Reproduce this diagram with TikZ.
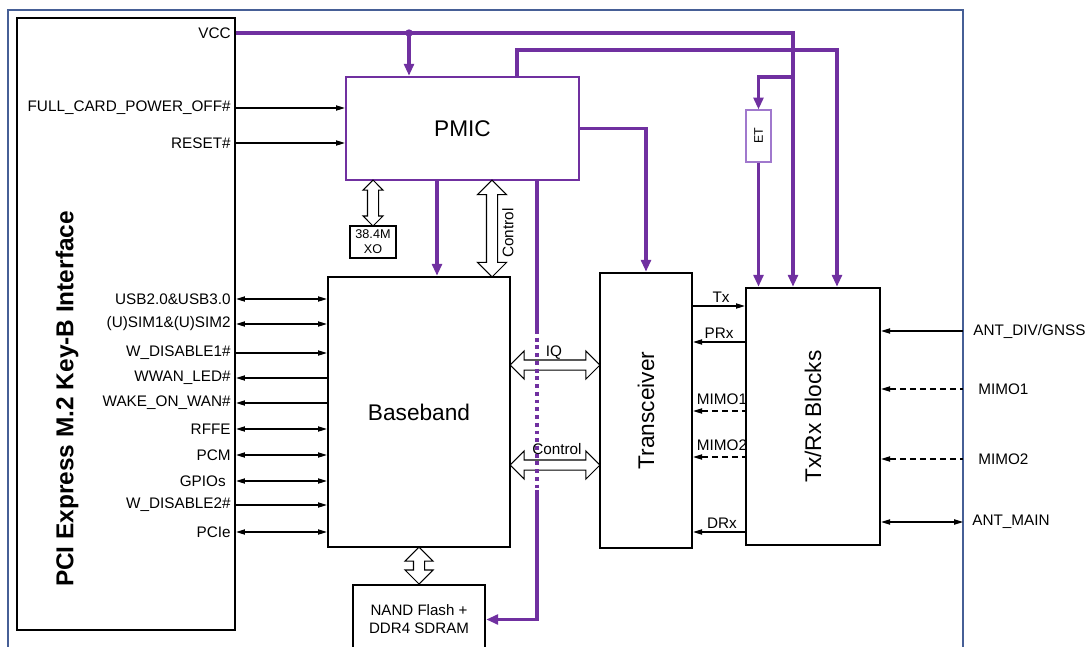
\documentclass[tikz,border=0pt]{standalone}
\usepackage{fontspec}
\setmainfont{Liberation Sans}
\usetikzlibrary{shapes,arrows.meta}

\definecolor{pmicviolet}{RGB}{112,48,160}
\definecolor{etviolet}{RGB}{160,120,205}
\definecolor{framecolor}{RGB}{70,95,150}

\begin{document}
\begin{tikzpicture}[x=0.02cm, y=-0.02cm]
	\tikzstyle{every node}=[inner sep=0pt, align=center, font=\fontsize{8.7}{10}\selectfont];
	\tikzstyle{block}=[draw, line width=1.4pt];
	\tikzstyle{bigtext}=[font=\fontsize{12.9}{15}\selectfont];
	\tikzstyle{sig}=[line width=0.6pt, >={Triangle[length=5pt,width=3pt]}];
	\tikzstyle{pwr}=[draw=pmicviolet, line width=1.8pt, >={Triangle[length=6.8pt,width=5.6pt]}];
	\tikzstyle{fat}=[draw, line width=0.6pt, fill=white, double arrow, double arrow tip angle=90, inner sep=0.1cm];
	\useasboundingbox (0,0) rectangle (1089,646);
	\draw[framecolor, line width=0.6pt] (8,10) rectangle (963,700);
	\coordinate (rim) at (963,0);

	% blocks
	\node[block, minimum width=4.36cm, minimum height=12.24cm] (pci) at (126,324) {};
	\node[rotate=90, font=\fontsize{13.9}{16}\selectfont\bfseries] (pcititle) at (67,399) {PCI Express M.2 Key-B Interface};
	\node[block, draw=pmicviolet, minimum width=4.66cm, minimum height=2.06cm, bigtext] (pmic) at (462.5,128.5) {PMIC};
	\node[block, minimum width=3.64cm, minimum height=5.4cm, bigtext] (bb) at (419,412) {Baseband};
	\node[block, minimum width=1.84cm, minimum height=5.5cm, bigtext] (trx) at (646,410.5) {\rotatebox{90}{Transceiver}};
	\node[block, minimum width=2.68cm, minimum height=5.14cm, bigtext] (txrx) at (813,416.5) {\rotatebox{90}{Tx/Rx Blocks}};
	\node[block, minimum width=2.64cm, minimum height=1.38cm, font=\fontsize{8.6}{10.2}\selectfont] (nand) at (419,619.5) {NAND Flash +\\DDR4 SDRAM};
	\node[draw, line width=0.6pt, minimum width=0.92cm, minimum height=0.64cm, font=\fontsize{7.2}{8.4}\selectfont] (xo) at (373,242) {38.4M\\XO};
	\node[draw=etviolet, line width=0.6pt, minimum width=0.5cm, minimum height=1.04cm, font=\fontsize{7.1}{8}\selectfont] (et) at (758.5,136) {\rotatebox{90}{ET}};

	% wide buses
	\node[fat, shape border rotate=90, minimum height=0.92cm, double arrow head extend=0.09cm] (xobus) at (373,203) {};
	\node[fat, shape border rotate=90, minimum height=1.94cm, double arrow head extend=0.18cm] (ctrlbus) at (492,228.5) {};
	\node (ctrlbuslbl) at (508,233) {\rotatebox{90}{Control}};
	\node[fat, inner sep=0.09cm, minimum height=1.8cm, double arrow head extend=0.18cm] (iqbus) at (555,365) {};
	\node (iqlbl) at (554,353) {IQ};
	\node[fat, inner sep=0.09cm, minimum height=1.8cm, double arrow head extend=0.18cm] (trxbus) at (555,465) {};
	\node (trxbuslbl) at (557,449) {Control};
	\node[fat, shape border rotate=90, minimum height=0.74cm, double arrow head extend=0.17cm] (membus) at (419,565.5) {};

	% power
	\node[anchor=east] (vcc) at (231,33) {VCC};
	\coordinate (vccjoin) at (409,33);
	\coordinate (vcccorner) at (793,33);
	\coordinate (etsplit) at (793,77);
	\coordinate (rfup) at (517,50);
	\coordinate (rfcorner) at (837,50);
	\coordinate (bbfeed) at (437,0);
	\coordinate (nandsolid) at (537,330);
	\coordinate (nanddot) at (537,490);
	\draw[pwr, ->] (pci.east |- vcc) -- (vcccorner) -- (vcccorner |- txrx.north);
	\fill[pmicviolet] (vccjoin) circle (2.1pt);
	\draw[pwr, ->] (vccjoin) -- (vccjoin |- pmic.north);
	\draw[pwr, ->] (etsplit) -| (et.north);
	\draw[pwr, ->] (et.south) -- (et.south |- txrx.north);
	\draw[pwr, ->] (rfup |- pmic.north) -- (rfup) -- (rfcorner) -- (rfcorner |- txrx.north);
	\draw[pwr, ->] (pmic.east) -| (trx.north);
	\draw[pwr, ->] (bbfeed |- pmic.south) -- (bbfeed |- bb.north);
	\draw[pwr] (nandsolid |- pmic.south) -- (nandsolid);
	\draw[pwr, dash pattern=on 2.2pt off 2.2pt] (nandsolid) -- (nanddot);
	\draw[pwr, ->] (nanddot) |- (nand.east);

	% M.2 pins
	\node[anchor=east] (fulloff) at (231,108) {FULL\_CARD\_POWER\_OFF\#};
	\node[anchor=east] (reset) at (231,143) {RESET\#};
	\draw[sig, ->] (pci.east |- fulloff) -- (pmic.west |- fulloff);
	\draw[sig, ->] (pci.east |- reset) -- (pmic.west |- reset);
	\node[anchor=east] (usb) at (231,299) {USB2.0\&USB3.0};
	\node[anchor=east] (sim) at (231,324) {(U)SIM1\&(U)SIM2};
	\node[anchor=east] (wdis1) at (231,353) {W\_DISABLE1\#};
	\node[anchor=east] (led) at (231,378) {WWAN\_LED\#};
	\node[anchor=east] (wake) at (231,403) {WAKE\_ON\_WAN\#};
	\node[anchor=east] (rffe) at (231,429) {RFFE};
	\node[anchor=east] (pcm) at (231,455) {PCM};
	\node[anchor=east] (gpio) at (226,481) {GPIOs};
	\node[anchor=east] (wdis2) at (231,505) {W\_DISABLE2\#};
	\node[anchor=east] (pcie) at (231,532) {PCIe};
	\draw[sig, <->] (pci.east |- usb) -- (bb.west |- usb);
	\draw[sig, <->] (pci.east |- sim) -- (bb.west |- sim);
	\draw[sig, ->] (pci.east |- wdis1) -- (bb.west |- wdis1);
	\draw[sig, <-] (pci.east |- led) -- (bb.west |- led);
	\draw[sig, <-] (pci.east |- wake) -- (bb.west |- wake);
	\draw[sig, <->] (pci.east |- rffe) -- (bb.west |- rffe);
	\draw[sig, <->] (pci.east |- pcm) -- (bb.west |- pcm);
	\draw[sig, <->] (pci.east |- gpio) -- (bb.west |- gpio);
	\draw[sig, ->] (pci.east |- wdis2) -- (bb.west |- wdis2);
	\draw[sig, <->] (pci.east |- pcie) -- (bb.west |- pcie);

	% RF paths
	\coordinate (txln) at (700,306);
	\coordinate (prxln) at (700,342);
	\coordinate (mimo1ln) at (700,411);
	\coordinate (mimo2ln) at (700,457);
	\coordinate (drxln) at (700,532);
	\node (txlbl) at (721,297) {Tx};
	\node (prxlbl) at (719,333) {PRx};
	\node (mimo1lbl) at (722,399) {MIMO1};
	\node (mimo2lbl) at (722,445) {MIMO2};
	\node (drxlbl) at (722,523) {DRx};
	\draw[sig, ->] (trx.east |- txln) -- (txrx.west |- txln);
	\draw[sig, <-] (trx.east |- prxln) -- (txrx.west |- prxln);
	\draw[sig, <-, dash pattern=on 3.4pt off 2.3pt] (trx.east |- mimo1ln) -- (txrx.west |- mimo1ln);
	\draw[sig, <-, dash pattern=on 3.4pt off 2.3pt] (trx.east |- mimo2ln) -- (txrx.west |- mimo2ln);
	\draw[sig, <-] (trx.east |- drxln) -- (txrx.west |- drxln);

	% antennas
	\node[anchor=west] (antdiv) at (973,331) {ANT\_DIV/GNSS};
	\node[anchor=west] (antmimo1) at (978,389) {MIMO1};
	\node[anchor=west] (antmimo2) at (978,459) {MIMO2};
	\node[anchor=west] (antmain) at (972,522) {ANT\_MAIN};
	\draw[sig, <-] (txrx.east |- antdiv) -- (rim |- antdiv);
	\draw[sig, <-, dash pattern=on 3.4pt off 2.3pt] (txrx.east |- antmimo1) -- (rim |- antmimo1);
	\draw[sig, <-, dash pattern=on 3.4pt off 2.3pt] (txrx.east |- antmimo2) -- (rim |- antmimo2);
	\draw[sig, <->] (txrx.east |- antmain) -- (rim |- antmain);
\end{tikzpicture}
\end{document}
